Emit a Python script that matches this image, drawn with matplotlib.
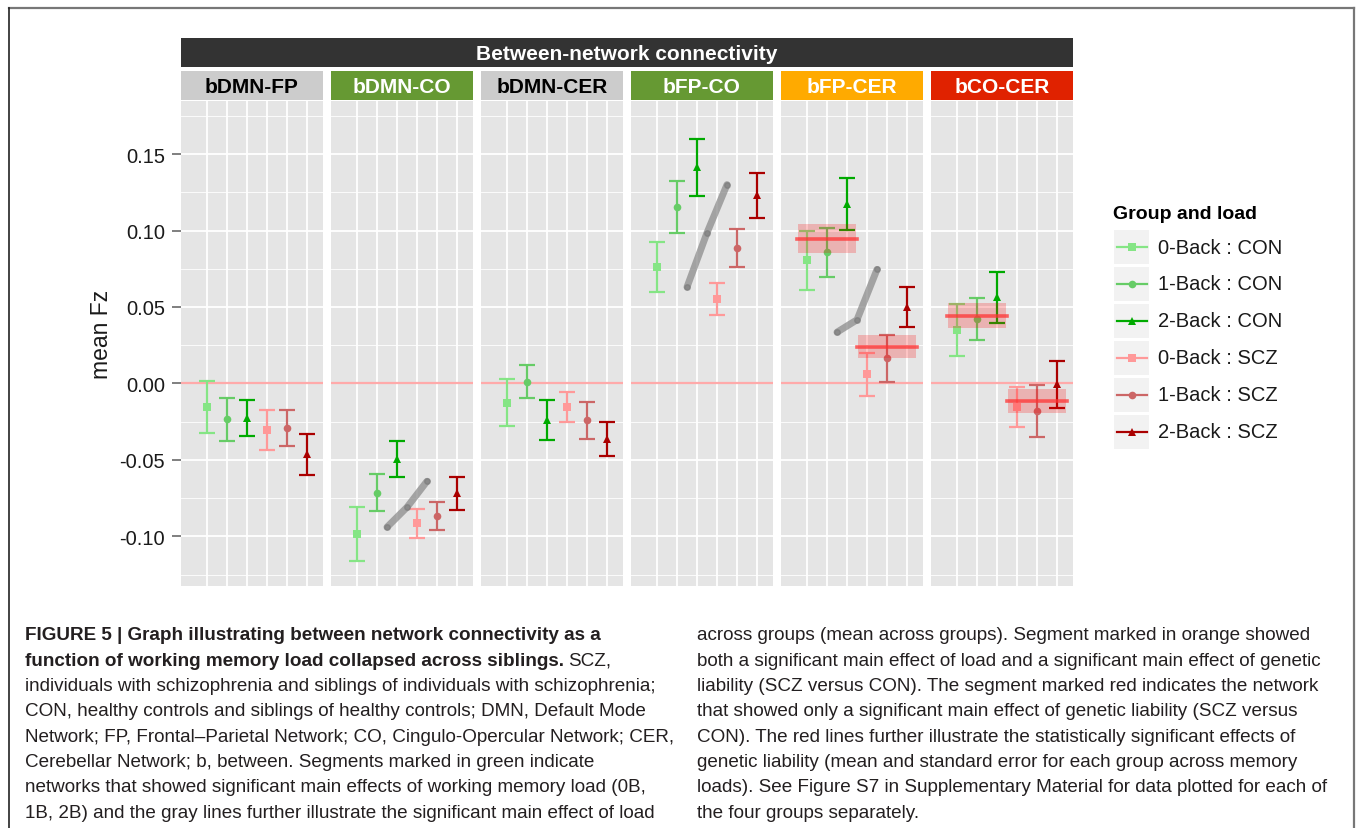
import matplotlib
matplotlib.use("Agg")
import matplotlib.pyplot as plt
from matplotlib.patches import Rectangle
import numpy as np

plt.rcParams["font.family"] = ["Liberation Sans", "DejaVu Sans"]

networks = ["bDMN-FP", "bDMN-CO", "bDMN-CER", "bFP-CO", "bFP-CER", "bCO-CER"]
strip_colors = ["#CCCCCC", "#669933", "#CCCCCC", "#669933", "#FFAA00", "#E02200"]
strip_text = ["black", "white", "black", "white", "white", "white"]

groups = ["0-Back : CON", "1-Back : CON", "2-Back : CON",
          "0-Back : SCZ", "1-Back : SCZ", "2-Back : SCZ"]
group_colors = ["#85E585", "#66CC66", "#00AA00", "#FF9999", "#CC6666", "#AA0000"]
group_markers = ["s", "o", "^", "s", "o", "^"]

# mean Fz, rows = networks, cols = groups
means = np.array([
    [-0.0156, -0.0234, -0.0225, -0.0303, -0.0294, -0.0463],
    [-0.0983, -0.0714, -0.0493, -0.0916, -0.0865, -0.0718],
    [-0.0126, 0.0010, -0.0238, -0.0155, -0.0241, -0.0362],
    [0.0763, 0.1156, 0.1414, 0.0554, 0.0887, 0.1229],
    [0.0805, 0.0857, 0.1174, 0.0060, 0.0163, 0.0499],
    [0.0351, 0.0423, 0.0564, -0.0153, -0.0181, -0.0006],
])
# standard errors
ses = np.array([
    [0.0169, 0.0140, 0.0118, 0.0131, 0.0118, 0.0134],
    [0.0177, 0.0119, 0.0118, 0.0097, 0.0092, 0.0108],
    [0.0152, 0.0108, 0.0130, 0.0096, 0.0121, 0.0111],
    [0.0164, 0.0171, 0.0187, 0.0105, 0.0124, 0.0149],
    [0.0193, 0.0160, 0.0170, 0.0140, 0.0152, 0.0129],
    [0.0170, 0.0137, 0.0167, 0.0131, 0.0168, 0.0154],
])

# gray lines: mean across groups for 0B, 1B, 2B
load_mean = {
    "bDMN-CO": [-0.094, -0.081, -0.064],
    "bFP-CO": [0.063, 0.0985, 0.130],
    "bFP-CER": [0.0335, 0.0416, 0.0745],
}
# red bands: CON and SCZ mean / se across loads
group_mean = {"bFP-CER": [0.0946, 0.0240], "bCO-CER": [0.0444, -0.0113]}
group_se = {"bFP-CER": [0.0094, 0.0075], "bCO-CER": [0.0082, 0.0079]}

yticks = [-0.10, -0.05, 0.00, 0.05, 0.10, 0.15]
ytick_labels = ["-0.10", "-0.05", "0.00", "0.05", "0.10", "0.15"]
yminor = [-0.125, -0.075, -0.025, 0.025, 0.075, 0.125, 0.175]

caption_left = [
    "individuals with schizophrenia and siblings of individuals with schizophrenia;",
    "CON, healthy controls and siblings of healthy controls; DMN, Default Mode",
    "Network; FP, Frontal\u2013Parietal Network; CO, Cingulo-Opercular Network; CER,",
    "Cerebellar Network; b, between. Segments marked in green indicate",
    "networks that showed significant main effects of working memory load (0B,",
    "1B, 2B) and the gray lines further illustrate the significant main effect of load",
]
caption_right = [
    "across groups (mean across groups). Segment marked in orange showed",
    "both a significant main effect of load and a significant main effect of genetic",
    "liability (SCZ versus CON). The segment marked red indicates the network",
    "that showed only a significant main effect of genetic liability (SCZ versus",
    "CON). The red lines further illustrate the statistically significant effects of",
    "genetic liability (mean and standard error for each group across memory",
    "loads). See Figure S7 in Supplementary Material for data plotted for each of",
    "the four groups separately.",
]

W, H = 1357, 829
fig = plt.figure(figsize=(W / 100, H / 100), dpi=100)


def fx(px):
    return px / W


def fy(py):
    return 1 - py / H


panel_left = [181, 331, 481, 631, 781, 931]
panel_w = 142
top, bottom = 102, 587
xpos = np.arange(1, 7)

for i, name in enumerate(networks):
    ax = fig.add_axes([fx(panel_left[i]), fy(bottom), panel_w / W, (bottom - top) / H])
    ax.set_facecolor("#E5E5E5")
    for s in ax.spines.values():
        s.set_visible(False)
    ax.set_xlim(-0.3, 6.8)
    ax.set_ylim(-0.1325, 0.1847)
    ax.set_xticks(xpos)
    ax.set_yticks(yticks)
    ax.set_yticks(yminor, minor=True)
    ax.grid(which="major", color="white", lw=1.3)
    ax.grid(which="minor", axis="y", color="white", lw=0.6)
    ax.set_axisbelow(True)
    ax.tick_params(axis="x", length=0, labelbottom=False)
    ax.tick_params(axis="y", which="minor", length=0)
    if i == 0:
        ax.set_yticklabels(ytick_labels)
        ax.tick_params(axis="y", which="major", length=6.5, width=1.4,
                       color="#7F7F7F", pad=5, labelsize=14.5, labelcolor="#1A1A1A")
    else:
        ax.tick_params(axis="y", which="major", length=0, labelleft=False)

    ax.axhline(0, color="#FFAAAA", lw=1.6, zorder=1.5)

    for g in range(6):
        ax.errorbar(xpos[g], means[i, g], yerr=ses[i, g], fmt="none",
                    ecolor=group_colors[g], capsize=6.1, capthick=1.6,
                    elinewidth=1.6, zorder=3)
        ax.plot(xpos[g], means[i, g], group_markers[g], color=group_colors[g],
                ms=5.5, mew=0, zorder=3.5)

    if name in load_mean:
        lx = [2.5, 3.5, 4.5]
        ax.plot(lx, load_mean[name], color="#8C8C8C", lw=5, alpha=0.75,
                solid_capstyle="round", solid_joinstyle="round", zorder=4)
        ax.plot(lx, load_mean[name], "o", color="#7A7A7A", ms=4, alpha=0.6, zorder=4)

    if name in group_mean:
        for k, (x0, x1) in enumerate([(0.5, 3.5), (3.5, 6.5)]):
            m, se = group_mean[name][k], group_se[name][k]
            ax.add_patch(Rectangle((x0 + 0.05, m - se), x1 - x0 - 0.1, 2 * se,
                                   facecolor="#FF0000", alpha=0.22, lw=0, zorder=5))
            ax.plot([x0, x1], [m, m], color="#FF3333", lw=2.6, alpha=0.75, zorder=5)

    sax = fig.add_axes([fx(panel_left[i]), fy(101), panel_w / W, 29 / H])
    sax.set_facecolor(strip_colors[i])
    sax.set_xticks([])
    sax.set_yticks([])
    for s in sax.spines.values():
        s.set_visible(False)
    sax.text(0.5, 0.48, name, ha="center", va="center", fontsize=15,
             fontweight="bold", color=strip_text[i], transform=sax.transAxes)

tax = fig.add_axes([fx(181), fy(68), (1073 - 181) / W, 29 / H])
tax.set_facecolor("#333333")
tax.set_xticks([])
tax.set_yticks([])
for s in tax.spines.values():
    s.set_visible(False)
tax.text(0.5, 0.48, "Between-network connectivity", ha="center", va="center",
         fontsize=15, fontweight="bold", color="white", transform=tax.transAxes)

fig.text(fx(102), fy(334), "mean Fz", rotation=90, ha="center", va="center",
         fontsize=16.5, color="#1A1A1A")

# legend
lax = fig.add_axes([0, 0, 1, 1], facecolor="none")
lax.set_xlim(0, W)
lax.set_ylim(H, 0)
lax.axis("off")
lax.text(1113, 214, "Group and load", fontsize=14, fontweight="bold", va="center")
for g, lab in enumerate(groups):
    yy = 248 + 36.9 * g
    lax.add_patch(Rectangle((1114, yy - 17), 35, 34, facecolor="#F2F2F2", lw=0))
    lax.plot([1117, 1147], [yy, yy], color=group_colors[g], lw=1.6)
    lax.plot(1132, yy, group_markers[g], color=group_colors[g], ms=5.5, mew=0)
    lax.text(1158, yy, lab, fontsize=14.5, va="center", color="#1A1A1A")

# frame
lax.plot([9, 1354], [9, 9], color="#777777", lw=1.6)
lax.plot([9, 9], [9, H], color="#222222", lw=1.2)
lax.plot([1354, 1354], [9, H], color="#777777", lw=1.6)

# caption
cap_size = 13.6
cap_color = "#231F20"
line_h = 25.3
y0 = 636
lax.text(25, y0, "FIGURE 5 | Graph illustrating between network connectivity as a",
         fontsize=cap_size, fontweight="bold", va="center", color=cap_color)
t2 = lax.text(25, y0 + line_h, "function of working memory load collapsed across siblings.",
              fontsize=cap_size, fontweight="bold", va="center", color=cap_color)
fig.canvas.draw()
bb = t2.get_window_extent(renderer=fig.canvas.get_renderer())
lax.text(bb.x1 + 4, y0 + line_h, "SCZ,", fontsize=cap_size,
         va="center", color=cap_color)
for k, line in enumerate(caption_left):
    lax.text(25, y0 + line_h * (k + 2), line, fontsize=cap_size,
             va="center", color=cap_color)
for k, line in enumerate(caption_right):
    lax.text(697, y0 + line_h * k, line, fontsize=cap_size,
             va="center", color=cap_color)

fig.savefig("out.png", dpi=100)
